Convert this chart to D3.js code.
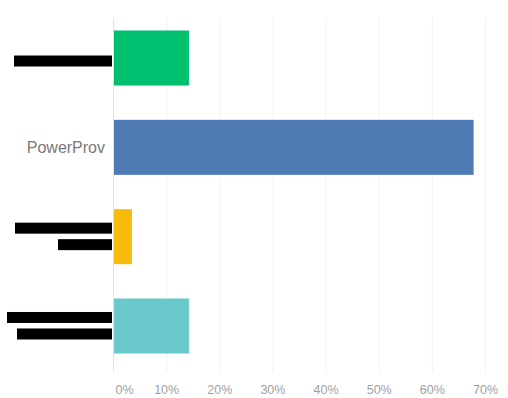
<!DOCTYPE html>
<html>
<head>
<meta charset="utf-8">
<script src="https://cdn.jsdelivr.net/npm/d3@7"></script>
<style>
  body { margin: 0; background: #fff; }
</style>
</head>
<body>
<div id="chart"></div>
<script>
  const width = 508,
    height = 398,
    margin = { top: 18, bottom: 32, left: 113, right: 23 };

  /* DATA */
  // the answer labels other than PowerProv are blacked out in the source image
  const categories = ["redacted-1", "PowerProv", "redacted-2", "redacted-3"];
  const shares = [0.1429, 0.6786, 0.0357, 0.1429];
  const colors = ["#00bf6f", "#507cb6", "#f6bb0c", "#6bc8cd"];
  const ticks = [0, 0.1, 0.2, 0.3, 0.4, 0.5, 0.6, 0.7];

  // redaction bars drawn over hidden labels: [category index, line, left x]
  const redactions = [
    [0, 0, 14],
    [2, 0, 15], [2, 1, 58],
    [3, 0, 7], [3, 1, 17]
  ];

  const data = categories.map((c, i) => ({ cat: c, value: shares[i], color: colors[i] }));

  const svg = d3.select("#chart")
    .append("svg")
    .attr("width", width)
    .attr("height", height);

  const xScale = d3.scaleLinear()
    .domain([0, 0.7])
    .range([margin.left, width - margin.right]);

  const yScale = d3.scaleBand()
    .domain(categories)
    .range([margin.top, 366])
    .paddingInner(0.384)
    .paddingOuter(0.14);

  // gridlines
  svg.append("g")
    .selectAll("line")
    .data(ticks)
    .join("line")
    .attr("x1", d => xScale(d) + 0.5)
    .attr("x2", d => xScale(d) + 0.5)
    .attr("y1", margin.top)
    .attr("y2", 372)
    .attr("stroke", d => d === 0 ? "#e2e2e2" : "#f1f1f1")
    .attr("stroke-width", 1);

  // x axis labels
  const xAxis = d3.axisBottom(xScale)
    .tickValues(ticks)
    .tickFormat(d3.format(".0%"))
    .tickSize(0);

  svg.append("g")
    .attr("transform", `translate(0,${height - 8})`)
    .call(xAxis)
    .call(g => g.select(".domain").remove())
    .selectAll("text")
      .attr("y", 0)
      .attr("dy", "0.32em")
      .attr("fill", "#a0a0a0")
      .style("font-family", "Liberation Sans, Arial, sans-serif")
      .style("font-size", "12.5px")
      .attr("text-anchor", (d, i) => i === 0 ? "start" : "middle")
      .attr("dx", (d, i) => i === 0 ? 2 : 0);

  // bars
  svg.selectAll("rect.bar")
    .data(data)
    .join("rect")
    .attr("class", "bar")
    .attr("x", xScale(0) + 1)
    .attr("y", d => yScale(d.cat))
    .attr("width", d => xScale(d.value) - xScale(0) - 1)
    .attr("height", yScale.bandwidth())
    .attr("fill", d => d.color);

  // the one readable label
  svg.append("text")
    .attr("x", margin.left - 8)
    .attr("y", yScale("PowerProv") + yScale.bandwidth() / 2)
    .attr("dy", "0.35em")
    .attr("text-anchor", "end")
    .attr("fill", "#7a7a7a")
    .style("font-family", "Liberation Sans, Arial, sans-serif")
    .style("font-size", "16px")
    .text("PowerProv");

  // black redaction marks
  svg.append("g")
    .selectAll("rect")
    .data(redactions)
    .join("rect")
    .attr("x", d => d[2])
    .attr("width", d => margin.left - 1 - d[2])
    .attr("y", d => {
      const c = categories[d[0]];
      const mid = yScale(c) + yScale.bandwidth() / 2;
      const lines = redactions.filter(r => r[0] === d[0]).length;
      return mid - lines * 8.5 + d[1] * 16.5 + (lines === 1 ? 6 : 3);
    })
    .attr("height", 11)
    .attr("fill", "#000");
</script>
</body>
</html>
